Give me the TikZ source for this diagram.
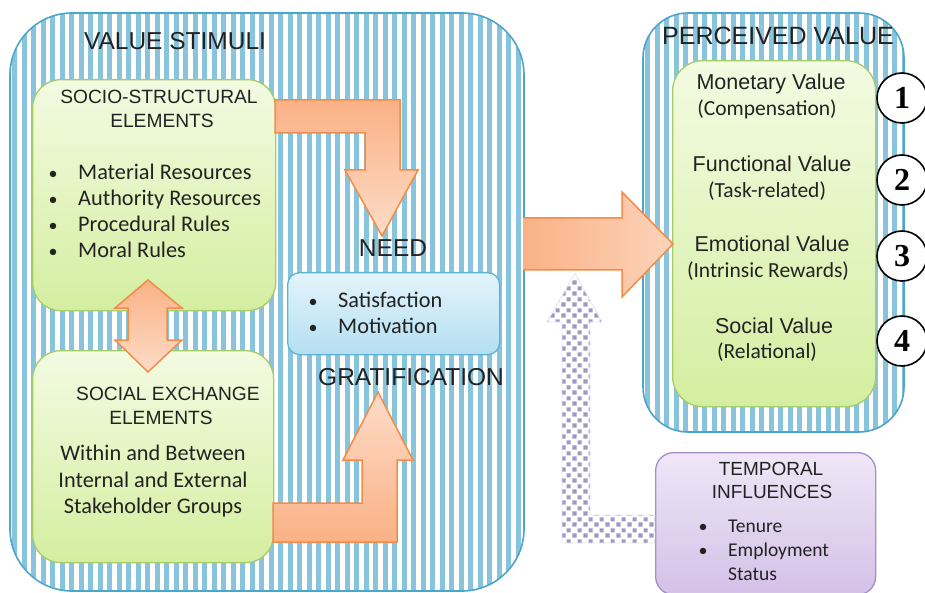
\documentclass[tikz,border=0pt]{standalone}
\usepackage{fontspec}
\setmainfont{Carlito}
\newfontfamily\arialf{Liberation Sans}
\newfontfamily\numfont{Liberation Serif}
\usetikzlibrary{patterns}
\definecolor{stripe}{HTML}{88C5DC}
\definecolor{contb}{HTML}{4CA6CB}
\definecolor{grtop}{HTML}{F3FBE2}
\definecolor{grbot}{HTML}{D4EEA0}
\definecolor{grdraw}{HTML}{A6CC6A}
\definecolor{ortop}{HTML}{FAB185}
\definecolor{orbot}{HTML}{FDDCC8}
\definecolor{ordraw}{HTML}{F28C48}
\definecolor{bltop}{HTML}{E4F4FB}
\definecolor{blbot}{HTML}{B4DFF1}
\definecolor{bldraw}{HTML}{5DB1D5}
\definecolor{putop}{HTML}{EFE7F7}
\definecolor{pubot}{HTML}{D3C1E7}
\definecolor{pudraw}{HTML}{A68FC7}
\definecolor{chk}{HTML}{A097C2}
\definecolor{txt}{HTML}{222222}
\pgfdeclarepatternformonly{checks}{\pgfqpoint{0pt}{0pt}}{\pgfqpoint{11pt}{11pt}}{\pgfqpoint{11pt}{11pt}}{%
  \pgfpathrectangle{\pgfqpoint{0.5pt}{0.5pt}}{\pgfqpoint{4.5pt}{4.5pt}}%
  \pgfpathrectangle{\pgfqpoint{6pt}{6pt}}{\pgfqpoint{4.5pt}{4.5pt}}%
  \pgfusepath{fill}}
\tikzset{
  container/.style={draw=contb, line width=1.6pt},
  greenbox/.style={draw=grdraw, line width=1.3pt, top color=grtop, bottom color=grbot, rounded corners=28pt, anchor=north west, inner sep=0pt},
  bluebox/.style={draw=bldraw, line width=1.3pt, top color=bltop, bottom color=blbot, rounded corners=12pt, anchor=north west, inner sep=0pt},
  purplebox/.style={draw=pudraw, line width=1.3pt, top color=putop, bottom color=pubot, rounded corners=18pt, anchor=north west, inner sep=0pt},
  orarrow/.style={draw=ordraw, line width=1.5pt, line join=miter},
  bighdr/.style={font=\arialf\fontsize{24.5}{26}\selectfont, text=txt, inner sep=0pt, anchor=base},
  hdr/.style={font=\arialf\fontsize{19.2}{22}\selectfont, text=txt, inner sep=0pt, anchor=base},
  vhdr/.style={font=\arialf\fontsize{21.5}{24}\selectfont, text=txt, inner sep=0pt, anchor=base},
  body/.style={font=\fontsize{22.3}{25}\selectfont, text=txt, inner sep=0pt, anchor=base},
  sbody/.style={font=\fontsize{21.5}{24}\selectfont, text=txt, inner sep=0pt, anchor=base},
  tbody/.style={font=\fontsize{19.5}{22}\selectfont, text=txt, inner sep=0pt, anchor=base},
  blt/.style={font=\fontsize{18}{22}\selectfont, text=txt, inner sep=0pt, anchor=base},
  numc/.style={circle, draw=black, line width=1.6pt, fill=white, minimum size=50pt, inner sep=0pt, font=\numfont\bfseries\fontsize{32}{32}\selectfont}
}
\begin{document}
\begin{tikzpicture}[x=1pt,y=-1pt]
\useasboundingbox (0,0) rectangle (925,593);
\fill[white] (0,0) rectangle (925,593);

% ---------- left container: VALUE STIMULI ----------
\begin{scope}
  \clip[rounded corners=62pt] (10,13) rectangle (524,591);
  \fill[white] (10,13) rectangle (524,591);
  \foreach \i in {0,...,54} {\fill[stripe] ({12+\i*9.5},0) rectangle ({17+\i*9.5},600);}
\end{scope}
\draw[container, rounded corners=62pt] (10,13) rectangle (524,591);
\node[bighdr] (vs) at (175,50) {VALUE STIMULI};

% ---------- right container: PERCEIVED VALUE ----------
\begin{scope}
  \clip[rounded corners=45pt] (643,13) rectangle (904,432);
  \fill[white] (643,13) rectangle (904,432);
  \foreach \i in {0,...,28} {\fill[stripe] ({645+\i*9.5},0) rectangle ({650+\i*9.5},600);}
\end{scope}
\draw[container, rounded corners=45pt] (643,13) rectangle (904,432);
\node[bighdr, font=\arialf\fontsize{25}{26}\selectfont] (pv) at (778,45) {PERCEIVED VALUE};

% ---------- boxes ----------
\node[greenbox, minimum width=243pt, minimum height=231pt] (socio) at (32,79) {};
\node[greenbox, minimum width=241pt, minimum height=212pt] (social) at (32,350) {};
\node[bluebox, minimum width=212pt, minimum height=82pt] (needbox) at (287,272) {};
\node[greenbox, rounded corners=30pt, minimum width=203pt, minimum height=346pt] (pvbox) at (672,60) {};
\node[purplebox, minimum width=220pt, minimum height=142pt] (temp) at (655,452) {};

% ---------- socio-structural texts ----------
\node[hdr] (s1) at (159,104) {SOCIO-STRUCTURAL};
\node[hdr] (s2) at (162,128) {ELEMENTS};
\foreach \t/\y [count=\k] in {Material Resources/180, Authority Resources/206, Procedural Rules/232, Moral Rules/258} {
  \node[blt] (sb\k) at (53,\y) {\textbullet};
  \node[body, anchor=base west] (st\k) at (78,\y) {\t};
}

% ---------- social exchange texts ----------
\node[hdr] (x1) at (168,400) {SOCIAL EXCHANGE};
\node[hdr] (x2) at (161,424) {ELEMENTS};
\node[body] (x3) at (153,460) {Within and Between};
\node[body] (x4) at (153,487) {Internal and External};
\node[body] (x5) at (153,513) {Stakeholder Groups};

% ---------- need / gratification ----------
\node[bighdr] (need) at (393,257) {NEED};
\node[blt] (nb1) at (313,307) {\textbullet};
\node[body, anchor=base west] (nt1) at (338,307) {Satisfaction};
\node[blt] (nb2) at (313,333) {\textbullet};
\node[body, anchor=base west] (nt2) at (338,333) {Motivation};
\node[bighdr] (grat) at (411,385) {GRATIFICATION};

% ---------- perceived value texts ----------
\node[vhdr] (p1) at (771,90) {Monetary Value};
\node[sbody] (p1b) at (767,116) {(Compensation)};
\node[vhdr] (p2) at (772,172) {Functional Value};
\node[sbody] (p2b) at (767,198) {(Task-related)};
\node[vhdr] (p3) at (772,252) {Emotional Value};
\node[sbody] (p3b) at (768,278) {(Intrinsic Rewards)};
\node[vhdr] (p4) at (774,333) {Social Value};
\node[sbody] (p4b) at (767,358) {(Relational)};

% ---------- temporal texts ----------
\node[hdr, font=\arialf\fontsize{19}{22}\selectfont] (tp1) at (771,475) {TEMPORAL};
\node[hdr, font=\arialf\fontsize{19}{22}\selectfont] (tp2) at (772,498) {INFLUENCES};
\node[blt] (tb1) at (703,532) {\textbullet};
\node[tbody, anchor=base west] (tt1) at (728,532) {Tenure};
\node[blt] (tb2) at (703,556) {\textbullet};
\node[tbody, anchor=base west] (tt2) at (728,556) {Employment};
\node[tbody, anchor=base west] (tt3) at (728,580) {Status};

% ---------- orange block arrows ----------
% socio -> need (bent down)
\draw[orarrow, top color=ortop, bottom color=orbot]
  (275,100) -- (400,100) -- (400,170) -- (418,170) -- (382,236) -- (345,170) -- (365,170) -- (365,133) -- (275,133) -- cycle;
% social -> gratification (bent up)
\draw[orarrow, top color=orbot, bottom color=ortop]
  (273,542) -- (397,542) -- (397,460) -- (413,460) -- (378,392) -- (343,460) -- (362,460) -- (362,503) -- (273,503) -- cycle;
% double arrow between socio and social
\draw[orarrow, top color=ortop, bottom color=orbot]
  (148,280) -- (182,308) -- (167,308) -- (167,340) -- (182,340) -- (148,372) -- (115,340) -- (128,340) -- (128,308) -- (115,308) -- cycle;
% big arrow to perceived value
\draw[orarrow, left color=ortop, right color=orbot!80!ortop]
  (523,218) -- (622,218) -- (622,192) -- (673,244) -- (622,297) -- (622,270) -- (523,270);

% ---------- checkered arrow from temporal ----------
\path[fill=white] (655,515) -- (590,515) -- (590,322) -- (602,322) -- (575,273) -- (547,322) -- (562,322) -- (562,543) -- (655,543) -- cycle;
\path[pattern=checks, pattern color=chk] (655,515) -- (590,515) -- (590,322) -- (602,322) -- (575,273) -- (547,322) -- (562,322) -- (562,543) -- (655,543) -- cycle;
\draw[draw=chk!25, line width=0.8pt] (655,515) -- (590,515) -- (590,322) -- (602,322) -- (575,273) -- (547,322) -- (562,322) -- (562,543) -- (655,543);

% ---------- numbered circles ----------
\node[numc] (n1) at (902,98) {1};
\node[numc] (n2) at (902,180) {2};
\node[numc] (n3) at (902,256) {3};
\node[numc] (n4) at (902,341) {4};
\end{tikzpicture}
\end{document}
